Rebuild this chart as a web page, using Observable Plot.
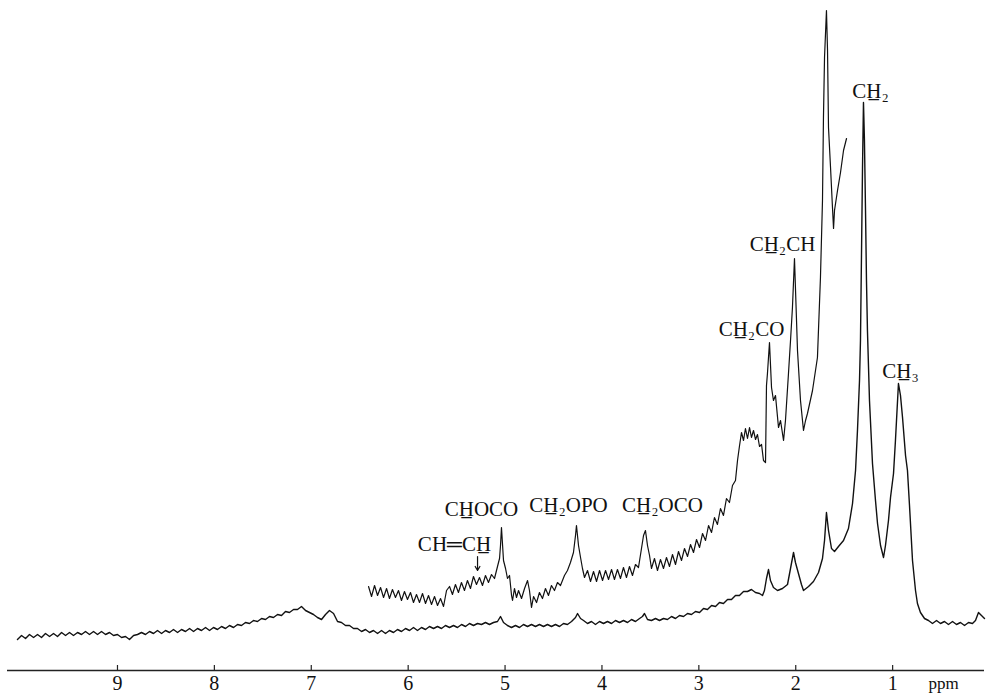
<!DOCTYPE html>
<html><head><meta charset="utf-8">
<script src="https://cdn.jsdelivr.net/npm/d3@7"></script>
<script src="https://cdn.jsdelivr.net/npm/@observablehq/plot@0.6"></script>
<style>
body{margin:0;background:#fff}
#chart{width:986px;height:693px}
</style>
</head><body><div id="chart"></div>
<script>
// Lower (full-scale) trace: chemical shift (ppm) and intensity (arb. units)
const lowerPpm = [
10.032,9.990,9.949,9.908,9.866,9.825,9.784,9.743,9.701,9.660,9.619,9.577,9.536,9.495,9.454,9.412,9.371,9.330,9.289,9.247,
9.206,9.165,9.123,9.082,9.041,9.000,8.958,8.917,8.876,8.834,8.793,8.752,8.711,8.669,8.628,8.587,8.545,8.504,8.463,8.422,
8.380,8.339,8.298,8.256,8.215,8.174,8.133,8.091,8.050,8.009,7.968,7.926,7.885,7.844,7.802,7.761,7.720,7.679,7.637,7.596,
7.555,7.513,7.472,7.431,7.390,7.348,7.307,7.266,7.225,7.183,7.142,7.101,7.059,7.018,6.977,6.936,6.894,6.853,6.812,6.770,
6.729,6.688,6.647,6.605,6.564,6.523,6.481,6.440,6.399,6.358,6.316,6.275,6.234,6.193,6.151,6.110,6.069,6.027,5.986,5.945,
5.904,5.862,5.821,5.780,5.738,5.697,5.656,5.615,5.573,5.532,5.491,5.449,5.408,5.367,5.326,5.284,5.243,5.202,5.161,5.119,
5.078,5.047,5.016,4.975,4.934,4.892,4.851,4.810,4.768,4.727,4.686,4.645,4.603,4.562,4.521,4.480,4.438,4.397,4.356,4.314,
4.273,4.252,4.221,4.190,4.149,4.108,4.067,4.025,3.984,3.943,3.901,3.860,3.819,3.778,3.736,3.695,3.654,3.612,3.582,3.561,
3.530,3.489,3.447,3.406,3.365,3.324,3.282,3.241,3.200,3.158,3.117,3.076,3.035,2.993,2.952,2.911,2.869,2.828,2.787,2.746,
2.704,2.663,2.622,2.581,2.539,2.498,2.457,2.416,2.374,2.343,2.323,2.302,2.281,2.261,2.230,2.188,2.137,2.085,2.054,2.023,
2.003,1.972,1.941,1.920,1.868,1.817,1.765,1.724,1.703,1.683,1.662,1.631,1.600,1.559,1.507,1.456,1.414,1.383,1.363,1.342,
1.332,1.321,1.311,1.301,1.291,1.280,1.270,1.260,1.239,1.208,1.177,1.156,1.125,1.094,1.074,1.043,1.022,0.991,0.971,0.940,
0.919,0.898,0.867,0.847,0.826,0.795,0.764,0.744,0.713,0.671,0.630,0.589,0.547,0.506,0.465,0.424,0.382,0.341,0.300,0.258,
0.217,0.176,0.145,0.114,0.083,0.052];
const lowerInt = [
31,35,32,36,33,36,33,37,34,37,34,38,35,38,35,38,36,39,36,39,
36,39,36,38,35,36,33,34,31,35,36,38,36,39,37,40,37,40,38,41,
38,41,39,42,39,42,40,43,40,43,41,44,42,45,43,46,45,48,47,50,
49,52,51,54,53,56,55,59,58,61,61,64,60,58,56,53,51,56,60,57,
49,48,45,45,42,42,39,41,38,40,37,40,37,40,38,41,39,42,40,43,
40,43,41,44,42,44,42,45,43,45,43,46,44,47,45,47,46,48,46,48,
49,54,48,45,43,45,43,46,44,46,44,46,44,46,44,46,44,47,46,49,
53,57,52,50,47,49,46,49,47,49,47,50,48,50,48,51,49,52,54,57,
51,50,52,50,52,51,54,52,55,54,57,56,59,58,62,61,65,64,68,67,
71,71,75,75,79,79,81,78,77,75,80,92,101,90,83,80,82,86,102,118,
108,97,86,80,84,89,98,112,130,158,140,122,119,124,130,142,167,200,240,290,
330,420,503,568,530,460,390,340,270,207,170,147,125,113,125,150,173,197,230,287,
275,253,215,200,165,110,80,67,58,52,50,47,50,47,49,46,49,46,48,45,
48,47,50,58,55,52];

// Upper (amplified) trace, about 6.4 – 1.48 ppm
const upperPpm = [
6.409,6.378,6.347,6.316,6.285,6.254,6.223,6.193,6.162,6.131,6.100,6.069,6.038,6.007,5.976,5.945,5.914,5.883,5.852,5.821,
5.790,5.759,5.728,5.697,5.666,5.635,5.604,5.573,5.543,5.512,5.481,5.450,5.419,5.388,5.357,5.326,5.295,5.264,5.233,5.202,
5.171,5.140,5.109,5.078,5.057,5.047,5.037,5.016,4.995,4.975,4.954,4.933,4.923,4.903,4.882,4.861,4.830,4.799,4.768,4.748,
4.727,4.706,4.675,4.645,4.614,4.583,4.552,4.521,4.490,4.459,4.428,4.387,4.356,4.325,4.294,4.273,4.263,4.242,4.221,4.201,
4.180,4.149,4.118,4.087,4.056,4.025,3.994,3.963,3.932,3.901,3.871,3.840,3.809,3.778,3.747,3.716,3.685,3.654,3.623,3.592,
3.571,3.551,3.530,3.509,3.489,3.458,3.427,3.396,3.365,3.334,3.303,3.272,3.241,3.210,3.179,3.148,3.117,3.086,3.055,3.024,
2.993,2.962,2.931,2.900,2.869,2.839,2.808,2.777,2.746,2.715,2.684,2.653,2.622,2.601,2.580,2.560,2.539,2.519,2.498,2.477,
2.457,2.436,2.415,2.395,2.374,2.353,2.333,2.312,2.302,2.292,2.271,2.250,2.230,2.209,2.178,2.157,2.126,2.106,2.075,2.054,
2.034,2.013,1.992,1.982,1.951,1.920,1.899,1.879,1.827,1.776,1.745,1.724,1.714,1.703,1.683,1.672,1.662,1.641,1.621,1.610,
1.600,1.569,1.538,1.507,1.476];
const upperInt = [
84,74,85,75,83,73,82,72,81,73,80,70,79,71,78,68,76,68,77,67,
75,66,74,65,72,64,80,84,76,86,78,88,80,90,82,94,86,93,85,95,
88,96,92,104,112,125,143,110,102,92,95,75,70,82,73,80,72,82,90,80,
63,74,68,78,72,82,75,85,80,88,85,95,100,108,118,135,145,125,113,102,
93,100,89,99,89,100,90,100,91,101,91,101,92,103,93,104,95,106,103,122,
135,140,125,115,102,112,100,111,102,113,104,116,106,119,110,122,114,126,118,131,
123,137,130,145,138,153,146,162,155,172,168,185,190,210,225,238,230,242,232,243,
233,240,231,236,224,226,210,208,285,297,328,283,270,275,243,250,230,250,297,330,
363,412,350,320,270,240,250,257,280,313,393,470,553,613,660,620,543,503,463,442,
460,480,498,520,532];

// Axis ticks and peak labels
const tickValues = [1, 2, 3, 4, 5, 6, 7, 8, 9];
const labelText = ["CH\u0332\u2082", "CH\u0332\u2083", "CH\u0332\u2082CH", "CH\u0332\u2082CO", "CH\u0332\u2082OCO", "CH\u0332\u2082OPO", "CH\u0332OCO", "CH\u2550CH\u0332"];
const labelPpm  = [1.229, 0.919, 2.137, 2.457, 3.375, 4.345, 5.243, 5.522];
const labelInt  = [573, 293, 420, 335, 159, 159, 155, 120];

const lower = lowerPpm.map((p, i) => ({ppm: p, v: lowerInt[i]}));
const upper = upperPpm.map((p, i) => ({ppm: p, v: upperInt[i]}));
const labels = labelText.map((t, i) => ({t, ppm: labelPpm[i], v: labelInt[i]}));

const serif = "'Liberation Serif', 'DejaVu Serif', serif";

const chart = Plot.plot({
  width: 986,
  height: 693,
  marginLeft: 7,
  marginRight: 2,
  marginTop: 0,
  marginBottom: 23,
  style: {background: "#fff", color: "#111"},
  x: {domain: [10.135, 0.052]},
  y: {domain: [0, 670], axis: null},
  marks: [
    Plot.ruleY([0], {stroke: "#222", strokeWidth: 1.4}),
    Plot.ruleX(tickValues, {x: d => d, y1: 0, y2: 5, stroke: "#222", strokeWidth: 1.2}),
    Plot.axisX(tickValues, {tickSize: 0, tickPadding: 5, fontSize: 20, fontFamily: serif, label: null, tickFormat: d => String(d)}),
    Plot.text(["ppm"], {x: 0.475, y: 0, dy: 13, text: d => d, fontSize: 17, fontFamily: serif, lineAnchor: "middle", fill: "#111"}),
    Plot.line(lower, {x: "ppm", y: "v", stroke: "#111", strokeWidth: 1.4, curve: "linear"}),
    Plot.line(upper, {x: "ppm", y: "v", stroke: "#111", strokeWidth: 1.2, curve: "linear"}),
    Plot.text(labels, {x: "ppm", y: "v", text: "t", lineAnchor: "bottom", fontSize: 21, fontFamily: serif, fill: "#111"}),
    Plot.arrow([{ppm: 5.284}], {x1: "ppm", x2: "ppm", y1: () => 114, y2: () => 100, stroke: "#111", strokeWidth: 1.2, headLength: 6})
  ]
});
document.getElementById("chart").appendChild(chart);
</script>
</body></html>
